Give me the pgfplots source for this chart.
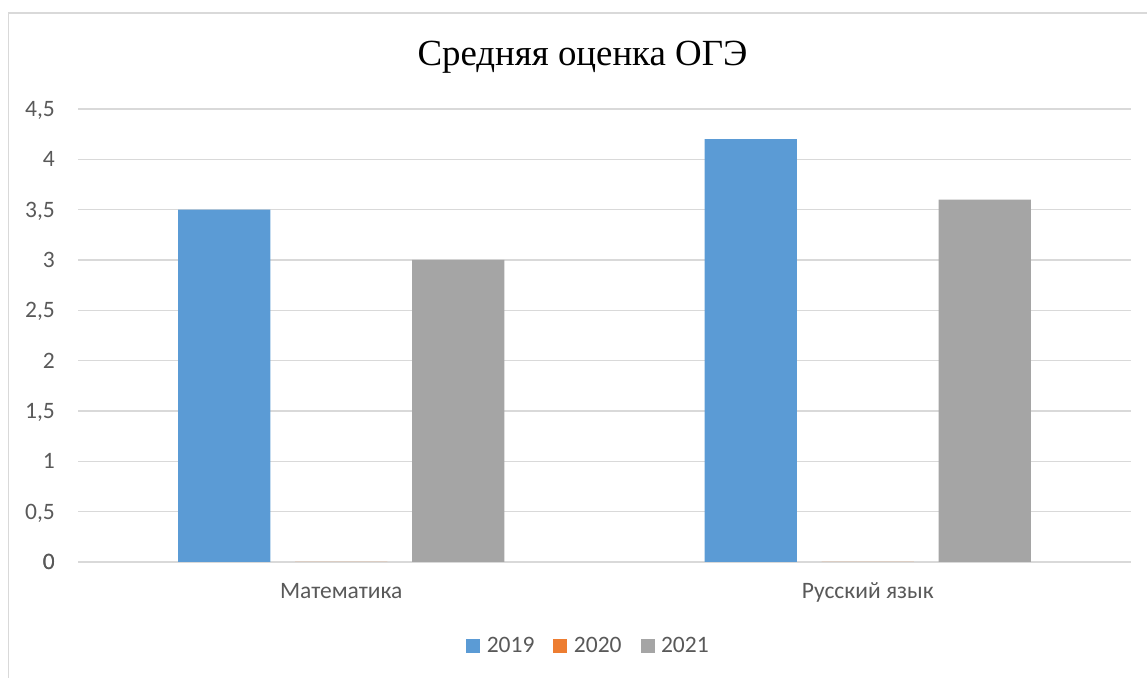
\documentclass[border=0pt]{standalone}
\usepackage{fontspec}
\setmainfont{Carlito}
\newfontfamily\titlefont{Liberation Serif}
\usepackage{pgfplots}
\pgfplotsset{compat=1.18}
\definecolor{cBlue}{HTML}{5B9BD5}
\definecolor{cOrange}{HTML}{ED7D31}
\definecolor{cGray}{HTML}{A5A5A5}
\definecolor{cGrid}{HTML}{D9D9D9}
\definecolor{cText}{HTML}{595959}
\begin{document}
\begin{tikzpicture}[x=1bp,y=1bp]
\useasboundingbox (0,0) rectangle (1147,678);
\draw[cGrid, line width=1.5bp] (8.5,-5) -- (8.5,665) -- (1160,665);
\begin{axis}[
  at={(78bp,116bp)}, anchor=south west,
  scale only axis, width=1053bp, height=453bp,
  xmin=-0.5, xmax=1.5, ymin=0, ymax=4.5,
  ybar, bar width=0.175,
  axis line style={draw=none},
  axis x line*=bottom,
  ymajorgrids, grid style={cGrid, line width=1.2bp},
  extra y ticks={0}, extra y tick style={grid style={cGrid, line width=1.2bp}},
  ytick={0,0.5,...,4.5},
  xtick={0,1}, xticklabels={Математика, Русский язык},
  major tick length=0pt,
  tick style={draw=none},
  /pgf/number format/.cd, use comma, assume math mode=true, fixed,
  /pgfplots/.cd,
  ticklabel style={font=\fontsize{23.6}{28}\selectfont, text=cText, inner sep=0pt},
  yticklabel style={anchor=base east, xshift=-23bp, yshift=-7.5bp},
  xticklabel style={anchor=base, yshift=-37bp},
  title={\titlefont\fontsize{37}{44}\selectfont Средняя оценка ОГЭ},
  title style={at={(axis description cs:0.4791,1)}, anchor=base, yshift=38bp, inner sep=0pt},
  legend style={at={(axis description cs:0.4848,-0.185)}, anchor=center, draw=none,
    font=\fontsize{23.6}{28}\selectfont, text=cText, inner sep=0pt,
    /tikz/every odd column/.append style={column sep=4.5bp},
    /tikz/every even column/.append style={column sep=17bp}},
  legend columns=3,
  legend image code/.code={\fill[#1, draw=none] (0bp,-7bp) rectangle (14bp,7bp);},
  legend cell align=left,
]
\addplot[fill=cBlue, draw=none, bar shift=-0.2222] coordinates {(0,3.5) (1,4.2)};
\addplot[fill=cOrange, draw=none, bar shift=0] coordinates {(0,0) (1,0)};
\addplot[fill=cGray, draw=none, bar shift=0.2222] coordinates {(0,3.0) (1,3.6)};
\legend{2019,2020,2021}
\end{axis}
\end{tikzpicture}
\end{document}
